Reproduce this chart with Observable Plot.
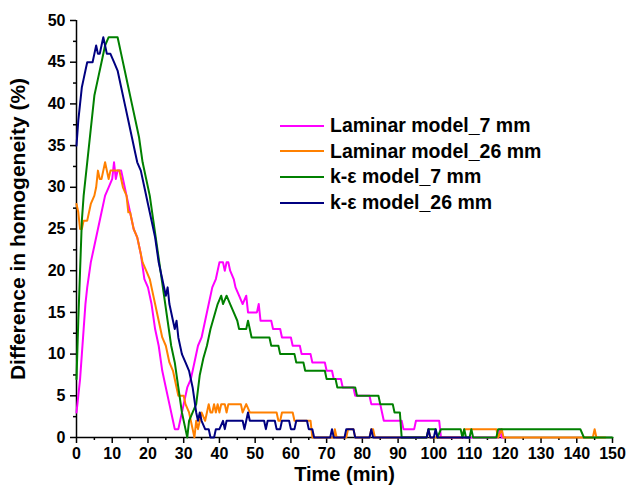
<!DOCTYPE html>
<html><head><meta charset="utf-8">
<script src="https://cdn.jsdelivr.net/npm/d3@7"></script>
<script src="https://cdn.jsdelivr.net/npm/@observablehq/plot@0.6"></script>
<style>
body{margin:0;background:#fff;}
#wrap{position:relative;width:628px;height:493px;}
#legend{position:absolute;left:280px;top:113px;font:bold 19.5px "Liberation Sans",Arial,sans-serif;color:#000;}
.row{display:flex;align-items:center;height:25.6px;white-space:nowrap;}
.sw{width:44px;height:2px;margin-right:6px;}
</style></head><body><div id="wrap"><div id="legend"></div></div>
<script>
const seriesNames = ["Laminar model_7 mm", "Laminar model_26 mm", "k-ε model_7 mm", "k-ε model_26 mm"];
const seriesColors = ["#ff00ff", "#ff8000", "#008000", "#000080"];
const yTicks = [0, 5, 10, 15, 20, 25, 30, 35, 40, 45, 50];
const yMinor = [2.5, 7.5, 12.5, 17.5, 22.5, 27.5, 32.5, 37.5, 42.5, 47.5];
const xTicks = [0, 10, 20, 30, 40, 50, 60, 70, 80, 90, 100, 110, 120, 130, 140, 150];
const xMinor = [5, 15, 25, 35, 45, 55, 65, 75, 85, 95, 105, 115, 125, 135, 145];

// [time (min), difference (%)]
const laminar7 = [[0,3],[0.5,5],[1,7],[1.5,10],[2,13],[2.5,16],[3,18],[4,21],[5,23],[6,25],[7,27],[8,29],[9,30],[10,31],[10.5,33],[11,31],[11.5,32],[12.5,32],[13,31],[14,29],[15,27],[16,25],[17,24],[18,22],[19,19],[20,18],[21,16],[22,13],[23,11],[24,8],[25,6],[26,4],[27,2],[27.5,1],[28.5,1],[29,2],[30,4],[31,6],[32,7],[33,9],[34,11],[35,12],[36,14],[37,16],[38,18],[39,19],[40,21],[41,21],[41.5,20],[42,21],[42.5,21],[43,20],[44,19],[44.5,18],[45.5,17],[46.5,16],[47.5,17],[48,15],[50.5,15],[51,16],[51.5,14],[54.5,14],[55,13],[57,13],[57.5,12],[60,12],[60.5,11],[62.5,11],[63,10],[65.5,10],[66,9],[69.5,9],[70,8],[71.5,8],[72,7],[74,7],[74.5,6],[77.5,6],[78,5],[82,5],[82.5,4],[85,4],[85.5,3],[86,2],[91,2],[91.5,1],[94.5,1],[95,2],[101.5,2],[102,0],[118,0],[118.5,1],[119,0],[120,0]];
const laminar26 = [[0,28],[0.5,27],[1,25],[1.5,25],[2,26],[3,26],[4,28],[5,29],[5.5,30],[6,32],[6.5,31],[7,31],[7.5,32],[8,33],[8.5,32],[9,31],[9.5,32],[12,32],[12.5,31],[13,30],[14,29],[14.5,27],[15,27],[16,25],[17,24],[17.5,23],[18,22],[18.5,21],[19.5,20],[20.5,19],[21,18],[22,16],[23,14],[24,12],[25,11],[26,9],[27,8],[28,6],[28.5,5],[30,5],[30.5,4],[31.5,3],[32.5,1],[33,0],[33.5,2],[34,1],[34.5,2],[35,3],[36,2],[36.5,3],[37,4],[37.5,3],[38,3],[38.5,4],[39,3],[39.5,4],[40,3],[40.5,4],[41.5,4],[42,3],[42.5,4],[46,4],[46.5,3],[47.5,4],[48.5,3],[56,3],[56.5,2],[57,2],[57.5,3],[60.5,3],[61,2],[65.5,2],[66,0],[72,0],[72.3,1],[72.8,0],[75.5,0],[76,1],[77.5,1],[78,0],[82,0],[82.5,1],[83,1],[83.5,0],[98,0],[98.5,1],[99,0],[108,0],[108.5,1],[117.5,1],[118,0],[119,1],[119.5,0],[144.5,0],[145,1],[145.5,0],[148,0]];
const keps7 = [[0,7],[0.5,14],[1,20],[1.5,26],[2,29],[3,33],[4,37],[5,41],[6,43],[7,45],[8,47],[9,48],[11.5,48],[12,47],[12.5,46],[13.5,44],[14.5,42],[15.5,40],[16.5,38],[17.5,36],[18.5,33],[19.5,31],[20.5,29],[21.5,26],[22.5,23],[23.5,20],[24.5,17],[25.5,14],[26.5,11],[27.5,9],[28.5,6],[29.5,3],[30.5,1],[31,0],[31.5,2],[32.5,3],[33.5,4],[34.5,7.5],[35.5,9.5],[36.5,11],[37.5,13],[38.5,14.5],[39.5,16],[40.5,17],[41,16],[42,17],[43,16],[44,15],[45,14],[45.5,13],[47.5,13],[48,14],[48.5,13],[49,12],[54,12],[54.5,11],[56.5,11],[57,10],[61,10],[61.5,9],[63.5,9],[64,8],[69.5,8],[70,7],[72.5,7],[73,6],[78,6],[78.5,5],[84.5,5],[85,4],[88.5,4],[89,3],[90.5,3],[91,0],[98,0],[98.5,1],[100.5,1],[101,0],[102,1],[107.5,1],[108,0],[108.5,1],[109,0],[110,0],[110.5,1],[111,0],[117.5,0],[118,1],[141,1],[142,0],[150,0]];
const keps26 = [[0,35],[0.5,38],[1,40],[1.5,42],[2,43],[2.5,44],[3,45],[4.5,45],[5,46],[5.5,47],[6,46],[6.5,46],[7,47],[7.5,48],[8,47],[8.5,46],[9.5,46],[10.5,45],[11.5,44],[12.5,42],[13.5,40],[14.5,38],[15.5,36],[16.5,34],[17,33],[18,32],[19,30],[20,28],[21,26],[22,24],[23,21],[24,19],[25,17],[25.5,18],[26,16],[27,14],[27.5,13],[28,14],[28.5,12],[29.5,10],[30.5,9],[31.5,8],[32.5,6],[33.5,3],[34,2],[34.5,3],[35,2],[36,1],[37,1],[37.5,0],[38.5,0],[39,1],[40,1],[41,2],[41.5,1],[42,2],[46.5,2],[47,1],[47.5,2],[48,3],[48.5,2],[52.5,2],[53,1],[53.5,2],[55.5,2],[56,1],[57,1],[57.5,2],[59.5,2],[60,1],[61,1],[61.5,2],[64.5,2],[65,1],[66,1],[66.5,0],[71,0],[71.5,1],[72,0],[75,0],[75.5,1],[77.5,1],[78,0],[82,0],[82.5,1],[83,0],[98,0],[98.5,1],[99,0],[100,0],[100.5,1],[101,0],[110,0]];
const allSeries = [laminar7, laminar26, keps7, keps26];

const font = '"Liberation Sans", Arial, sans-serif';
const chart = Plot.plot({
  width: 628, height: 493,
  marginLeft: 76, marginRight: 16, marginTop: 20, marginBottom: 56,
  x: {domain: [0, 150]},
  y: {domain: [0, 50]},
  style: {fontFamily: font, fontWeight: "bold", fontSize: "16px", color: "#000", background: "#fff", overflow: "visible"},
  marks: [
    Plot.axisY({ticks: yTicks, tickSize: 6, tickPadding: 5, label: null, strokeWidth: 1.5}),
    Plot.axisY({ticks: yMinor, tickSize: 3, text: null, label: null, strokeWidth: 1.5}),
    Plot.axisX({ticks: xTicks, tickSize: 6, tickPadding: 4, label: null, strokeWidth: 1.5}),
    Plot.axisX({ticks: xMinor, tickSize: 3, text: null, label: null, strokeWidth: 1.5}),
    Plot.ruleX([0], {strokeWidth: 1.5}),
    Plot.ruleY([0], {strokeWidth: 1.5}),
    ...allSeries.map((s, i) => Plot.line(s, {x: d => d[0], y: d => d[1], stroke: seriesColors[i], strokeWidth: 2})),
    Plot.text(["Difference in homogeneity (%)"], {text: d => d, frameAnchor: "left", textAnchor: "middle", dx: -58, rotate: -90, fontSize: 21}),
    Plot.text(["Time (min)"], {text: d => d, frameAnchor: "bottom", dy: 43, fontSize: 20})
  ]
});
const wrap = document.getElementById("wrap");
wrap.insertBefore(chart, wrap.firstChild);
const legend = document.getElementById("legend");
seriesNames.forEach((n, i) => {
  const row = document.createElement("div");
  row.className = "row";
  const sw = document.createElement("span");
  sw.className = "sw";
  sw.style.background = seriesColors[i];
  const tx = document.createElement("span");
  tx.textContent = n;
  row.appendChild(sw); row.appendChild(tx);
  legend.appendChild(row);
});
</script></body></html>
